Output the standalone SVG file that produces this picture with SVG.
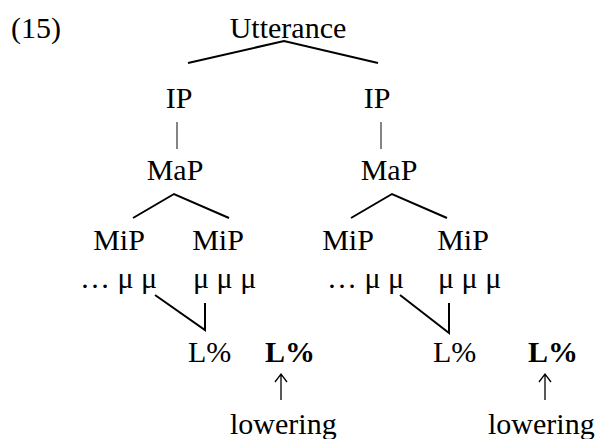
<svg xmlns="http://www.w3.org/2000/svg" width="600" height="439" viewBox="0 0 600 439">
  <style>
    text { font-family: "Liberation Serif", "Times New Roman", serif; font-size: 30px; fill: #000; }
    .c { text-anchor: middle; }
    .b { font-weight: bold; }
    .br { fill: none; stroke: #000; stroke-width: 2; stroke-linejoin: miter; }
    .st { fill: none; stroke: #333; stroke-width: 1.2; }
    .ar { fill: none; stroke: #000; stroke-width: 1.3; }
  </style>
  <rect width="600" height="439" fill="#fff"/>

  <text id="ex-num" x="11" y="38">(15)</text>

  <g id="connectors">
    <polyline class="br" points="188,63 284,41 378,63"/>
    <line class="st" x1="177" y1="122" x2="177" y2="149"/>
    <line class="st" x1="381" y1="122" x2="381" y2="149"/>
    <polyline class="br" points="133,218 174,194 229,218"/>
    <polyline class="br" points="351,218 392,194 447,218"/>
    <polyline class="br" points="155,295 205,330 205,303"/>
    <polyline class="br" points="400,295 449,333 449,303"/>
    <!-- upward arrows under the bold boundary tones -->
    <path class="ar" d="M281,400 V374 M275,382 L281,374 L287,382"/>
    <path class="ar" d="M545,400 V374 M539,382 L545,374 L551,382"/>
  </g>

  <g id="utterance"><text class="c" x="288" y="38">Utterance</text></g>
  <g id="ip-1"><text class="c" x="179" y="108">IP</text></g>
  <g id="ip-2"><text class="c" x="377" y="108">IP</text></g>
  <g id="map-1"><text class="c" x="175" y="180">MaP</text></g>
  <g id="map-2"><text class="c" x="389" y="180">MaP</text></g>
  <g id="mip-1"><text class="c" x="119" y="250">MiP</text></g>
  <g id="mip-2"><text class="c" x="218" y="250">MiP</text></g>
  <g id="mip-3"><text class="c" x="348" y="250">MiP</text></g>
  <g id="mip-4"><text class="c" x="463" y="250">MiP</text></g>

  <g id="moras">
    <text x="80" y="288">… μ μ</text>
    <text x="193" y="288">μ μ μ</text>
    <text x="327" y="288">… μ μ</text>
    <text x="438" y="288">μ μ μ</text>
  </g>

  <g id="tone-1"><text x="188" y="362">L%</text></g>
  <g id="tone-2"><text class="b" x="265" y="362">L%</text></g>
  <g id="tone-3"><text x="433" y="362">L%</text></g>
  <g id="tone-4"><text class="b" x="528" y="362">L%</text></g>

  <g id="lowering-1"><text x="230" y="434">lowering</text></g>
  <g id="lowering-2"><text x="488" y="434">lowering</text></g>
</svg>
